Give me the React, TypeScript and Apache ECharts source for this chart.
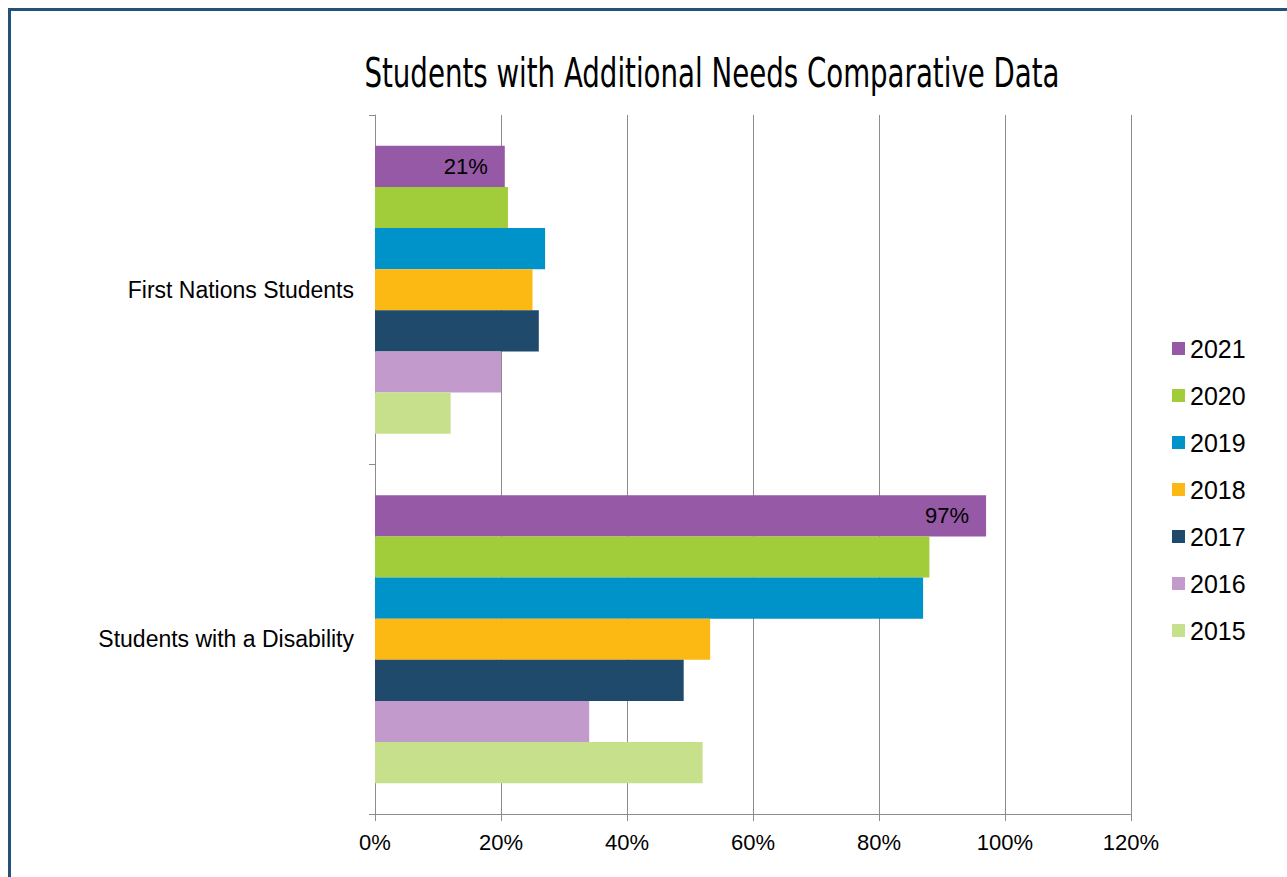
import React, { useEffect, useRef } from "react";
import * as echarts from "echarts";

const categories = ["Students with a Disability", "First Nations Students"];
const years = ["2021", "2020", "2019", "2018", "2017", "2016", "2015"];
// values per year: [Students with a Disability, First Nations Students]
const values2021 = [97, 20.6];
const values2020 = [88, 21.1];
const values2019 = [87, 27];
const values2018 = [53.2, 25];
const values2017 = [49, 26];
const values2016 = [34, 20];
const values2015 = [52, 12];
const seriesValues = [values2021, values2020, values2019, values2018, values2017, values2016, values2015];
const colors = ["#9559A5", "#A1CD3A", "#0093C9", "#FDB913", "#1F4A6C", "#C29ACB", "#C6E08C"];
const xTicks = { min: 0, max: 120, interval: 20 };
const title = "Students with Additional Needs Comparative Data";

export default function App() {
  const ref = useRef<HTMLDivElement>(null);
  useEffect(() => {
    if (!ref.current) return;
    const chart = echarts.init(ref.current, undefined, { renderer: "svg" });
    const font = "Liberation Sans, Arial, sans-serif";
    chart.setOption({
      animation: false,
      backgroundColor: "#ffffff",
      graphic: [
        {
          type: "rect",
          shape: { x: 9.5, y: 9.5, width: 1300, height: 900 },
          style: { fill: "none", stroke: "#24507A", lineWidth: 3 },
          silent: true,
        },
        {
          type: "text",
          x: 712,
          y: 73,
          scaleX: 0.75,
          style: {
            text: title,
            fontFamily: "DejaVu Sans Condensed, DejaVu Sans, sans-serif",
            fontSize: 41,
            fill: "#000",
            textAlign: "center",
            textVerticalAlign: "middle",
          },
        },
      ],
      legend: {
        orient: "vertical",
        left: 1167,
        top: 331,
        itemWidth: 13,
        itemHeight: 13,
        itemGap: 22,
        icon: "rect",
        data: years,
        textStyle: { fontSize: 25, color: "#000", fontFamily: font },
      },
      grid: { left: 375, right: 156, top: 115, bottom: 63, containLabel: false },
      xAxis: {
        type: "value",
        min: xTicks.min,
        max: xTicks.max,
        interval: xTicks.interval,
        axisLine: { show: true, lineStyle: { color: "#8c8c8c", width: 1 } },
        axisTick: { show: true, length: 7, lineStyle: { color: "#8c8c8c" } },
        splitLine: { show: true, lineStyle: { color: "#8c8c8c", width: 1 } },
        axisLabel: {
          formatter: "{value}%",
          fontSize: 22,
          color: "#000",
          fontFamily: font,
          margin: 17,
        },
      },
      yAxis: {
        type: "category",
        data: categories,
        axisLine: { show: true, lineStyle: { color: "#8c8c8c", width: 1 } },
        axisTick: { show: true, length: 6, lineStyle: { color: "#8c8c8c" } },
        axisLabel: { fontSize: 23, color: "#000", fontFamily: font, margin: 21 },
      },
      series: years.map((y, i) => ({
        name: y,
        type: "bar",
        data: seriesValues[i],
        barGap: "0%",
        barCategoryGap: "17.6%",
        itemStyle: { color: colors[i] },
        label:
          y === "2021"
            ? {
                show: true,
                position: "insideRight",
                distance: 17,
                fontSize: 22,
                color: "#000",
                fontFamily: font,
                formatter: (p: any) => Math.round(p.value) + "%",
              }
            : { show: false },
      })),
    });
    return () => chart.dispose();
  }, []);
  return (
    <div
      ref={ref}
      style={{ position: "absolute", left: 0, top: 0, width: 1287, height: 877 }}
    />
  );
}
